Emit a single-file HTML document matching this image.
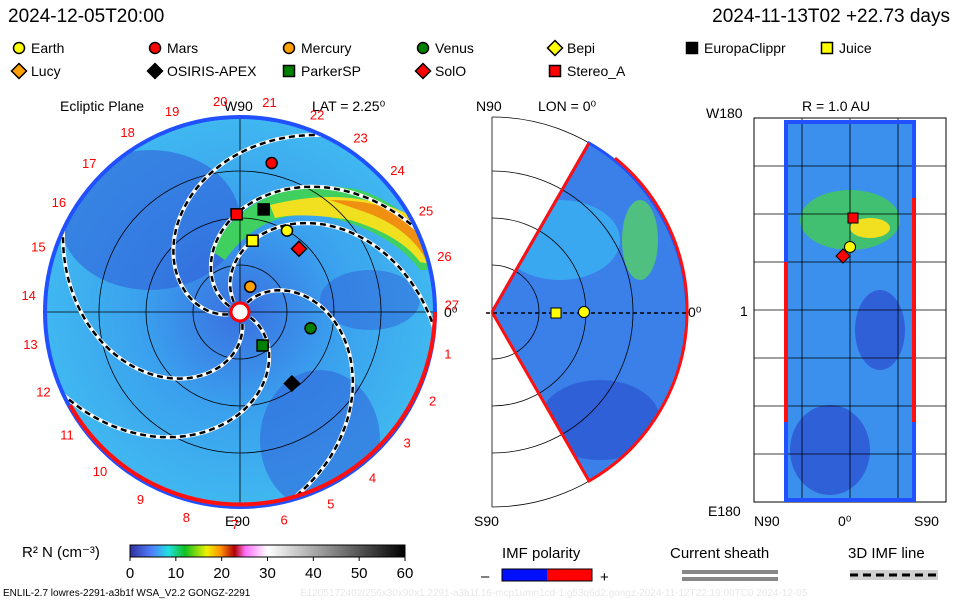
<!DOCTYPE html>
<html><head><meta charset="utf-8"><style>
html,body{margin:0;padding:0;background:#fff}
svg{display:block;font-family:"Liberation Sans",sans-serif}
</style></head><body>
<svg id="c" width="960" height="600" viewBox="0 0 960 600" xmlns="http://www.w3.org/2000/svg">
<defs>
<radialGradient id="gDisc" cx="0.5" cy="0.5" r="0.5">
<stop offset="0" stop-color="#3a70e0"/><stop offset="0.5" stop-color="#3aa0ee"/><stop offset="1" stop-color="#40b8f0"/></radialGradient>
<linearGradient id="cbar" x1="0" x2="1">
<stop offset="0" stop-color="#3030a0"/><stop offset="0.08" stop-color="#5080ff"/><stop offset="0.14" stop-color="#20e0e0"/>
<stop offset="0.2" stop-color="#10c020"/><stop offset="0.28" stop-color="#f0f000"/><stop offset="0.33" stop-color="#ff9000"/>
<stop offset="0.38" stop-color="#b00000"/><stop offset="0.42" stop-color="#ff70ff"/><stop offset="0.5" stop-color="#ffffff"/>
<stop offset="1" stop-color="#000000"/></linearGradient>
<clipPath id="discClip"><circle cx="240" cy="312" r="195"/></clipPath>
<clipPath id="wedgeClip"><path d="M492,312 L589,143 A195,195 0 0 1 589,481 Z"/></clipPath>
</defs>
<g id="legend"></g>
<text x="8" y="22" font-size="19">2024-12-05T20:00</text>
<text x="950" y="22" font-size="19" text-anchor="end">2024-11-13T02 +22.73 days</text>

<g>
<text x="60" y="111" font-size="14">Ecliptic Plane</text>
<text x="224" y="111" font-size="14">W90</text>
<text x="312" y="111" font-size="14">LAT = 2.25⁰</text>
<text x="225" y="526" font-size="14">E90</text>
<text x="444" y="317" font-size="14">0⁰</text>
<g clip-path="url(#discClip)">
<circle cx="240" cy="312" r="195" fill="url(#gDisc)"/>
<ellipse cx="150" cy="220" rx="90" ry="70" fill="#3060d8" opacity="0.6"/>
<ellipse cx="320" cy="440" rx="60" ry="70" fill="#3060d8" opacity="0.55"/>
<ellipse cx="370" cy="300" rx="50" ry="30" fill="#3060d8" opacity="0.5"/>
<path d="M210,250 Q260,170 360,190 Q420,210 440,270 L420,270 Q390,230 320,215 Q260,210 225,260 Z" fill="#40d060"/>
<path d="M270,205 Q350,185 410,215 Q430,240 435,265 L420,262 Q400,235 350,220 Q300,212 275,218 Z" fill="#f0e020"/>
<path d="M330,200 Q400,200 425,235 Q435,255 437,265 L428,263 Q410,228 365,212 Z" fill="#f09010"/>
</g>
<g id="grid" fill="none" stroke="#000" stroke-width="0.8"></g>
<g id="spirals" fill="none" clip-path="url(#discClip)"></g>
<circle cx="240" cy="312" r="195" fill="none" stroke="#2050ff" stroke-width="4"/>
<path d="M435,312 A195,195 0 0 1 70,405" fill="none" stroke="#ff1010" stroke-width="4"/>
<circle cx="240" cy="312" r="9" fill="#fff" stroke="#ff0000" stroke-width="3"/>
<g id="carr"></g>
<g id="bodies"></g>
</g>

<g>
<text x="476" y="111" font-size="14">N90</text>
<text x="538" y="111" font-size="14">LON = 0⁰</text>
<text x="474" y="526" font-size="14">S90</text>
<text x="688" y="317" font-size="14">0⁰</text>
<g clip-path="url(#wedgeClip)">
<rect x="490" y="140" width="200" height="345" fill="#3a80e8"/>
<ellipse cx="560" cy="240" rx="60" ry="40" fill="#3aa8f0"/>
<ellipse cx="640" cy="240" rx="18" ry="40" fill="#50c080"/>
<ellipse cx="600" cy="420" rx="60" ry="40" fill="#3060d8"/>
</g>
<g id="wgrid" fill="none" stroke="#000" stroke-width="0.8"></g>
<path d="M492,312 L589,143 A195,195 0 0 1 687,312" fill="none" stroke="#2050ff" stroke-width="3"/>
<path d="M492,312 L589,143" stroke="#ff1010" stroke-width="3"/>
<path d="M492,312 L589,481 A195,195 0 0 0 687,312 M615,158 A195,195 0 0 1 687,312" fill="none" stroke="#ff1010" stroke-width="3"/>
<line x1="486" y1="313" x2="687" y2="313" stroke="#000" stroke-dasharray="4,3" stroke-width="1.5"/>
<rect x="551" y="308" width="10" height="10" fill="#ff0" stroke="#000"/>
<circle cx="584" cy="312" r="5.5" fill="#ff0" stroke="#000"/>
</g>

<g>
<text x="802" y="111" font-size="14">R = 1.0 AU</text>
<text x="706" y="118" font-size="14">W180</text>
<text x="740" y="316" font-size="14">1</text>
<text x="708" y="516" font-size="14">E180</text>
<text x="754" y="526" font-size="14">N90</text>
<text x="838" y="526" font-size="14">0⁰</text>
<text x="914" y="526" font-size="14">S90</text>
<rect x="754" y="118" width="192" height="384" fill="none" stroke="#000"/>
<rect x="786" y="122" width="128" height="378" fill="#3a90ec"/>
<ellipse cx="850" cy="220" rx="50" ry="30" fill="#40c070"/>
<ellipse cx="870" cy="228" rx="20" ry="10" fill="#f0e020"/>
<ellipse cx="830" cy="450" rx="40" ry="45" fill="#3060d8"/>
<ellipse cx="880" cy="330" rx="25" ry="40" fill="#3060d8"/>
<g id="rgrid" stroke="#000" stroke-width="0.8"></g>
<rect x="786" y="122" width="128" height="378" fill="none" stroke="#2050ff" stroke-width="4"/>
<line x1="786" y1="262" x2="786" y2="422" stroke="#ff1010" stroke-width="4"/>
<line x1="914" y1="198" x2="914" y2="422" stroke="#ff1010" stroke-width="4"/>
<rect x="848" y="213" width="10" height="10" fill="#f00" stroke="#000"/>
<polygon points="843,249 850,256 843,263 836,256" fill="#f00" stroke="#000"/>
<circle cx="850" cy="247" r="5.5" fill="#ff0" stroke="#000"/>
</g>

<g>
<text x="22" y="557" font-size="15">R² N (cm⁻³)</text>
<rect x="130" y="545" width="275" height="12" fill="url(#cbar)" stroke="#000"/>
<g id="cbticks"></g>
</g>
<g>
<text x="502" y="558" font-size="15">IMF polarity</text>
<text x="481" y="581" font-size="15">–</text>
<rect x="502" y="569" width="45" height="12" fill="#0010ff"/>
<rect x="547" y="569" width="45" height="12" fill="#ff0000"/>
<rect x="502" y="569" width="90" height="12" fill="none" stroke="#000"/>
<text x="600" y="582" font-size="15">+</text>
</g>
<g>
<text x="670" y="558" font-size="15">Current sheath</text>
<rect x="682" y="570" width="96" height="4" fill="#888"/>
<rect x="682" y="577" width="96" height="4" fill="#888"/>
</g>
<g>
<text x="848" y="558" font-size="15">3D IMF line</text>
<rect x="850" y="570" width="88" height="10" fill="#d0d0d0"/>
<line x1="850" y1="575" x2="938" y2="575" stroke="#000" stroke-width="3" stroke-dasharray="8,5"/>
</g>
<text x="3" y="596" font-size="10">ENLIL-2.7 lowres-2291-a3b1f WSA_V2.2 GONGZ-2291</text>
<text x="300" y="596" font-size="10" fill="#e8e8e8">E1205172402/256x30x90x1.2291-a3b1f.16-mcp1umn1cd-1.g53q6d2.gongz-2024-11-12T22:19:00TC0   2024-12-05</text>

<script>
const NS="http://www.w3.org/2000/svg";
const cbTicks=[0,10,20,30,40,50,60];
const legendNames=["Earth","Mars","Mercury","Venus","Bepi","EuropaClippr","Juice","Lucy","OSIRIS-APEX","ParkerSP","SolO","Stereo_A"];
const legendShapes=["circle","circle","circle","circle","diamond","square","square","diamond","diamond","square","diamond","square"];
const legendColors=["#ffff00","#ff0000","#ffa000","#008000","#ffff00","#000000","#ffff00","#ffa000","#000000","#008000","#ff0000","#ff0000"];
const bodyNames=["Mars","Stereo_A","EuropaClippr","Earth","Juice","SolO","Mercury","Venus","ParkerSP","OSIRIS-APEX"];
const bodyR=[1.62,1.04,1.12,1.0,0.77,0.92,0.29,0.77,0.43,0.94];
const bodyA=[78,92,77,60,80,47,68,-13,-56,-54];
const spiralStarts=[200,160,130,60,-20,-70];
const carrNums=[27,1,2,3,4,5,6,7,8,9,10,11,12,13,14,15,16,17,18,19,20,21,22,23,24,25,26];
const CX=240,CY=312,PX=94;
function el(t,a,p){const e=document.createElementNS(NS,t);for(const k in a)e.setAttribute(k,a[k]);(p||document.getElementById('c')).appendChild(e);return e;}
function shape(kind,x,y,col,parent,s){
  s=s||6;let e;
  if(kind==="circle")e=el("circle",{cx:x,cy:y,r:s,fill:col,stroke:"#000","stroke-width":1.5},parent);
  else if(kind==="square")e=el("rect",{x:x-s,y:y-s,width:2*s,height:2*s,fill:col,stroke:"#000","stroke-width":1.5},parent);
  else e=el("polygon",{points:`${x},${y-s-2} ${x+s+2},${y} ${x},${y+s+2} ${x-s-2},${y}`,fill:col,stroke:"#000","stroke-width":1.5},parent);
  return e;
}
const lg=document.getElementById('legend');
const colX=[12,148,282,416,548,685,820];
legendNames.forEach((n,i)=>{
  const row=i<7?0:1,col=i<7?i:i-7;
  const x=colX[col]+7,y=row?71:48;
  const m=shape(legendShapes[i],x,y,legendColors[i],lg,5.5);
  
  
  const t=el("text",{x:x+12,y:y+5,"font-size":14},lg);t.textContent=n;
  
  
});
const g=document.getElementById('grid');
[47,94,141].forEach(r=>el("circle",{cx:CX,cy:CY,r:r},g));
el("line",{x1:CX-195,y1:CY,x2:CX+195,y2:CY},g);
el("line",{x1:CX,y1:CY-195,x2:CX,y2:CY+195},g);
const sp=document.getElementById('spirals');
spiralStarts.forEach(a0=>{
  let d="";
  for(let r=12;r<=200;r+=3){const th=(a0-(r/PX)*65)*Math.PI/180;const x=CX+r*Math.cos(th),y=CY-r*Math.sin(th);d+=(d?"L":"M")+x.toFixed(1)+","+y.toFixed(1);}
  el("path",{d:d,stroke:"#fff","stroke-width":4},sp);
  const p=el("path",{d:d,stroke:"#000","stroke-width":2.5,"stroke-dasharray":"6,4"},sp);
  
  
});
const cg=document.getElementById('carr');
carrNums.forEach((n,i)=>{
  const ang=(-2+i*13.333)*Math.PI/180;
  const t=el("text",{x:CX+212*Math.cos(ang),y:CY+212*Math.sin(ang)+5,"font-size":13,fill:"#ff0000","text-anchor":"middle"},cg);
  t.textContent=n;
  
  
});
const bg=document.getElementById('bodies');
bodyNames.forEach((n,i)=>{
  const j=legendNames.indexOf(n);
  const a=bodyA[i]*Math.PI/180;
  const m=shape(legendShapes[j],CX+bodyR[i]*PX*Math.cos(a),CY-bodyR[i]*PX*Math.sin(a),legendColors[j],bg,5.5);
  
  
});
const wg=document.getElementById('wgrid');
[47,94,141,195].forEach(r=>el("path",{d:`M492,${312-r} A${r},${r} 0 0 1 492,${312+r}`},wg));
el("line",{x1:492,y1:117,x2:492,y2:507},wg);
const rg=document.getElementById('rgrid');
for(let y=166;y<=500;y+=48)el("line",{x1:754,y1:y,x2:946,y2:y},rg);
[802,850,898].forEach(x=>el("line",{x1:x,y1:118,x2:x,y2:502},rg));
const cb=document.getElementById('cbticks');
cbTicks.forEach(v=>{
  const x=130+v/60*275;
  el("line",{x1:x,y1:557,x2:x,y2:561,stroke:"#000"},cb);
  const t=el("text",{x:x,y:578,"font-size":15,"text-anchor":"middle"},cb);t.textContent=v;
  
  
});
</script>
</svg>
</body></html>
